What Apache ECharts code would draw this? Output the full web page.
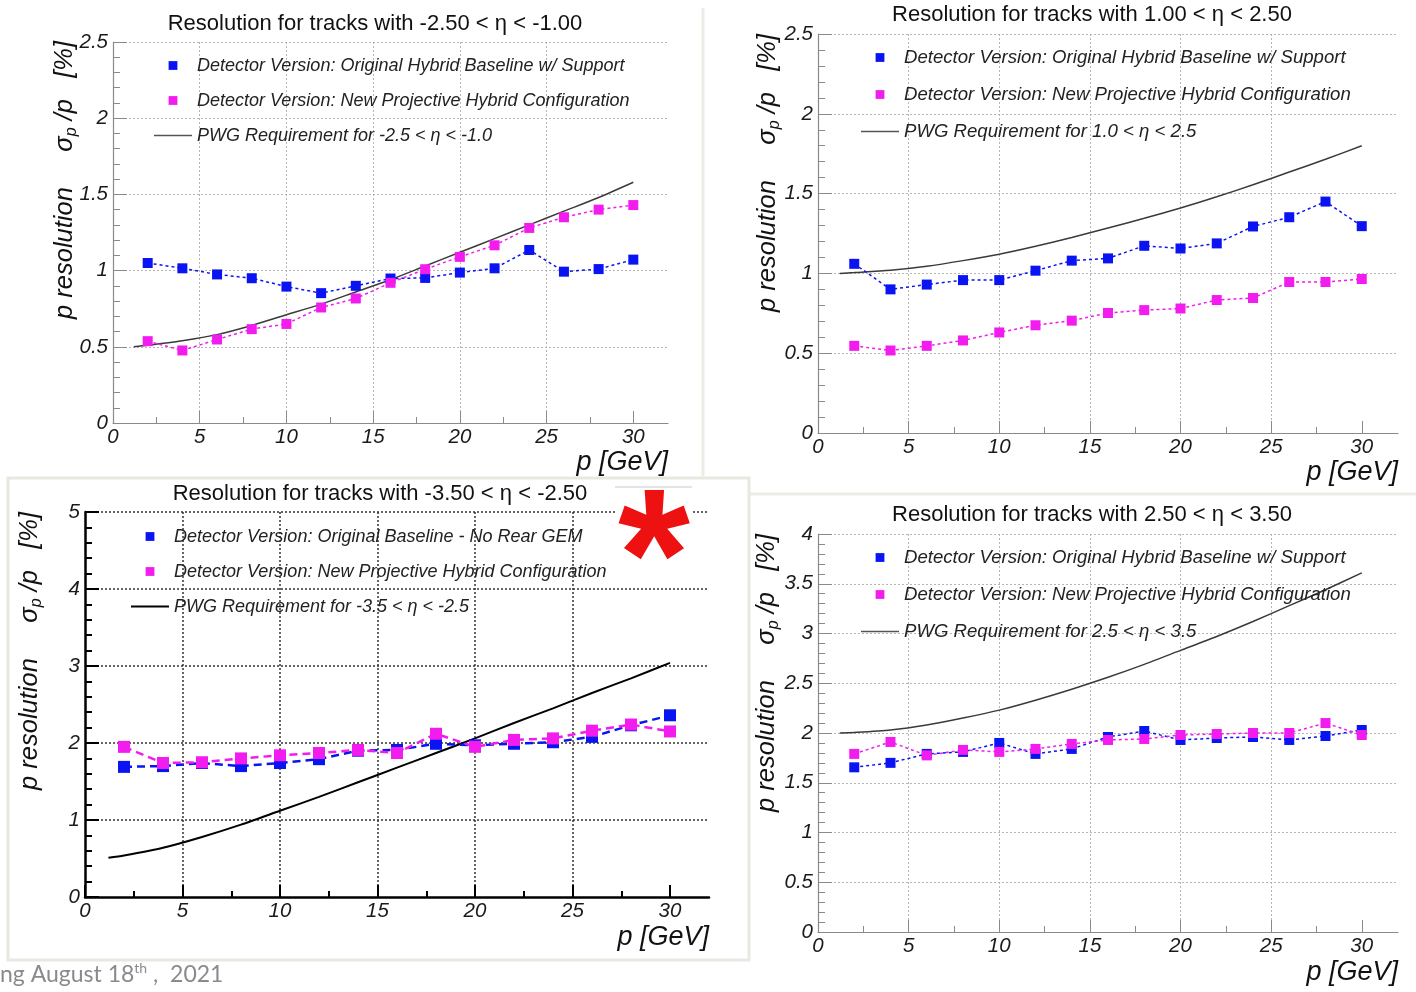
<!DOCTYPE html>
<html><head><meta charset="utf-8">
<script src="https://cdn.jsdelivr.net/npm/echarts@6/dist/echarts.min.js"></script>
<style>html,body{margin:0;padding:0;background:#fff}#c{width:1416px;height:992px}</style>
</head><body><div id="c"></div>
<script>
// ---------- DATA ----------
const momentum = [2,4,6,8,10,12,14,16,18,20,22,24,26,28,30];
const reqMomentum = [1.2,2,4,6,8,10,12,14,16,18,20,22,24,26,28,30];
const xTickValues = [0,5,10,15,20,25,30];
const xMinorValues = [2.5,7.5,12.5,17.5,22.5,27.5];

const titles = [
  'Resolution for tracks with -2.50 < η < -1.00',
  'Resolution for tracks with 1.00 < η < 2.50',
  'Resolution for tracks with -3.50 < η < -2.50',
  'Resolution for tracks with 2.50 < η < 3.50'
];
const blueNames = [
  'Detector Version: Original Hybrid Baseline w/ Support',
  'Detector Version: Original Hybrid Baseline w/ Support',
  'Detector Version: Original Baseline - No Rear GEM',
  'Detector Version: Original Hybrid Baseline w/ Support'
];
const magentaName = 'Detector Version: New Projective Hybrid Configuration';
const reqNames = [
  'PWG Requirement for -2.5 < η < -1.0',
  'PWG Requirement for 1.0 < η < 2.5',
  'PWG Requirement for -3.5 < η < -2.5',
  'PWG Requirement for 2.5 < η < 3.5'
];

// panel 1: -2.5 < eta < -1.0
const p1Blue = [1.05,1.015,0.975,0.95,0.895,0.852,0.90,0.948,0.952,0.987,1.015,1.135,0.993,1.01,1.072];
const p1Magenta = [0.537,0.476,0.548,0.616,0.65,0.758,0.817,0.92,1.009,1.09,1.166,1.28,1.35,1.40,1.43];
const p1Req = [0.50,0.51,0.54,0.58,0.64,0.71,0.78,0.86,0.94,1.03,1.12,1.21,1.30,1.39,1.48,1.58];
// panel 2: 1.0 < eta < 2.5
const p2Blue = [1.06,0.90,0.93,0.958,0.958,1.017,1.08,1.094,1.173,1.156,1.188,1.294,1.352,1.45,1.296];
const p2Magenta = [0.546,0.517,0.546,0.58,0.63,0.675,0.704,0.752,0.77,0.78,0.833,0.846,0.946,0.946,0.965];
const p2Req = [1.00,1.005,1.02,1.045,1.08,1.12,1.17,1.225,1.285,1.345,1.41,1.48,1.555,1.635,1.715,1.80];
// panel 3: -3.5 < eta < -2.5
const p3Blue = [1.69,1.70,1.74,1.70,1.74,1.79,1.90,1.91,1.99,1.97,1.99,2.01,2.08,2.23,2.36];
const p3Magenta = [1.95,1.74,1.75,1.80,1.84,1.87,1.91,1.87,2.12,1.95,2.04,2.06,2.16,2.24,2.15];
const p3Req = [0.51,0.54,0.64,0.78,0.94,1.12,1.30,1.49,1.68,1.87,2.06,2.26,2.45,2.65,2.84,3.04];
// panel 4: 2.5 < eta < 3.5
const p4Blue = [1.655,1.70,1.79,1.81,1.90,1.79,1.84,1.96,2.02,1.93,1.95,1.96,1.93,1.97,2.03];
const p4Magenta = [1.79,1.91,1.775,1.83,1.81,1.84,1.89,1.93,1.94,1.98,1.99,2.00,2.00,2.10,1.98];
const p4Req = [2.00,2.005,2.03,2.08,2.15,2.23,2.33,2.44,2.56,2.69,2.83,2.97,3.12,3.28,3.44,3.61];

const yMax = [2.5, 2.5, 5, 4];
const yInterval = [0.5, 0.5, 1, 0.5];
const blueSets = [p1Blue, p2Blue, p3Blue, p4Blue];
const magentaSets = [p1Magenta, p2Magenta, p3Magenta, p4Magenta];
const reqSets = [p1Req, p2Req, p3Req, p4Req];

// ---------- LAYOUT / STYLE ----------
const panels = [
  {left:113, top:42, width:555, height:381, titleX:375, titleY:24, yNameX:65, yNameY:41, xNameY:462, legLeft:153, legTop:56, legSpacing:35, legFont:18},
  {left:818, top:34, width:580, height:399, titleX:1092, titleY:15, yNameX:768, yNameY:34, xNameY:472, legLeft:860, legTop:48, legSpacing:37, legFont:18.6},
  {left:85, top:512, width:624, height:385, titleX:380, titleY:494, yNameX:30, yNameY:512, xNameY:937, legLeft:130, legTop:527, legSpacing:35, legFont:18},
  {left:818, top:534, width:580, height:398, titleX:1092, titleY:515, yNameX:767, yNameY:534, xNameY:972, legLeft:860, legTop:548, legSpacing:37, legFont:18.6}
];
const BLUE = '#0a14f2', MAGENTA = '#f21cef';
const FONT = 'Liberation Sans, Arial, sans-serif';

const zip = (xs, ys) => xs.map((x, i) => [x, ys[i]]);

const grid = [], xAxis = [], yAxis = [], series = [], legend = [], graphic = [];

panels.forEach((pn, i) => {
  const heavy = (i === 2);
  const axisCol = heavy ? '#000' : '#8a8a8a';
  const gridCol = heavy ? '#333' : '#b5b5b5';
  const reqCol = heavy ? '#000' : '#3a3a3a';
  grid.push({left: pn.left, top: pn.top, width: pn.width, height: pn.height, containLabel: false});
  const labelStyle = {fontStyle:'italic', fontFamily: FONT, fontSize: 20.5, color: '#1a1a1a'};
  xAxis.push({
    type:'value', gridIndex:i, min:0, max:32, interval:5,
    axisLine:{show:true, onZero:false, lineStyle:{color:axisCol, width: heavy ? 2.5 : 1.2}},
    axisTick:{show:true, inside:true, length:12, customValues: xTickValues, lineStyle:{color:axisCol, width: heavy ? 2 : 1}},
    axisLabel:{...labelStyle, margin:4, customValues: xTickValues},
    splitLine:{show:true, showMaxLine:false, showMinLine:false, lineStyle:{color:gridCol, type:[2,2], width: heavy ? 1.5 : 1}}
  });
  // minor x ticks overlay
  xAxis.push({
    type:'value', gridIndex:i, min:0, max:32, position:'bottom',
    axisLine:{show:false},
    axisTick:{show:true, inside:true, length:6, customValues: xMinorValues, lineStyle:{color:axisCol, width: heavy ? 2 : 1}},
    axisLabel:{show:false}, splitLine:{show:false}
  });
  yAxis.push({
    type:'value', gridIndex:i, min:0, max:yMax[i], interval:yInterval[i],
    axisLine:{show:true, onZero:false, lineStyle:{color:axisCol, width: heavy ? 2.5 : 1.2}},
    axisTick:{show:true, inside:true, length:14, lineStyle:{color:axisCol, width: heavy ? 2 : 1}},
    minorTick:{show:true, splitNumber:5, length:7, lineStyle:{color:axisCol, width: heavy ? 2 : 1}},
    axisLabel:{...labelStyle, margin:5},
    splitLine:{show:true, showMinLine:false, lineStyle:{color:gridCol, type:[2,2], width: heavy ? 1.5 : 1}}
  });
  const xi = i * 2;
  series.push({
    type:'line', name: reqNames[i], xAxisIndex: xi, yAxisIndex: i,
    data: zip(reqMomentum, reqSets[i]), symbol:'none', smooth:0.25,
    itemStyle:{color: reqCol},
    lineStyle:{color: reqCol, width: heavy ? 2 : 1.5}, z:2
  });
  series.push({
    type:'line', name: blueNames[i], xAxisIndex: xi, yAxisIndex: i,
    data: zip(momentum, blueSets[i]), symbol:'rect', symbolSize: heavy ? 12 : 10,
    itemStyle:{color: BLUE}, lineStyle:{color: BLUE, width: heavy ? 2.5 : 1.5, type: heavy ? [8,5] : [3,3]}, z:3
  });
  series.push({
    type:'line', name: magentaName, xAxisIndex: xi, yAxisIndex: i,
    data: zip(momentum, magentaSets[i]), symbol:'rect', symbolSize: heavy ? 12 : 10,
    itemStyle:{color: MAGENTA}, lineStyle:{color: MAGENTA, width: heavy ? 2.5 : 1.5, type: heavy ? [8,5] : [3,3]}, z:4
  });
  legend.push({
    orient:'vertical', left: pn.legLeft, top: pn.legTop, padding:0,
    itemWidth: 38, itemHeight: 11, itemGap: pn.legSpacing - 19, selectedMode:false,
    textStyle:{fontStyle:'italic', fontFamily: FONT, fontSize: pn.legFont, color:'#222', lineHeight:19},
    data:[
      {name: blueNames[i], lineStyle:{opacity:0}},
      {name: magentaName, lineStyle:{opacity:0}},
      {name: reqNames[i], itemStyle:{opacity:0}, lineStyle:{color: heavy ? '#000' : '#555', width: heavy ? 2 : 1.5}}
    ]
  });
  // title
  graphic.push({type:'text', x: pn.titleX, y: pn.titleY, z:10,
    style:{text: titles[i], fill:'#111', font:'22px ' + FONT, align:'center', verticalAlign:'middle'}});
  // x axis name
  graphic.push({type:'text', x: pn.left + pn.width, y: pn.xNameY, z:10,
    style:{text:'p [GeV]', fill:'#111', font:'italic 27px ' + FONT, align:'right', verticalAlign:'middle'}});
  // y axis name (rotated)
  graphic.push({type:'text', x: pn.yNameX, y: pn.yNameY, rotation: Math.PI/2, z:10,
    style:{text:'{a|p resolution     σ}{s|p}{a| /p   [%]}', align:'right', verticalAlign:'middle',
      rich:{a:{font:'italic 25.5px ' + FONT, fill:'#111'}, s:{font:'italic 16px ' + FONT, fill:'#111', padding:[13,0,0,0]}}}});
});

// panel frames, footer, marker star
graphic.push(
  {type:'line', shape:{x1:703, y1:8, x2:703, y2:476}, style:{stroke:'#ececE6', lineWidth:3}, z:1},
  {type:'rect', shape:{x:8, y:478, width:741, height:482}, style:{fill:'none', stroke:'#e9e8e0', lineWidth:3}, z:1},
  {type:'line', shape:{x1:750, y1:494, x2:1416, y2:494}, style:{stroke:'#ececE6', lineWidth:3}, z:1},
  {type:'rect', shape:{x:615, y:487, width:76, height:70}, style:{fill:'#ffffff', stroke:null}, z:20},
  {type:'line', shape:{x1:615, y1:487, x2:692, y2:487}, style:{stroke:'#e4e4e4', lineWidth:2}, z:21},
  {type:'text', x:654, y:659, z:22, style:{text:'*', fill:'#ee1111', font:'bold 185px ' + FONT, align:'center', verticalAlign:'bottom'}},
  {type:'text', x:0, y:975, z:10, style:{text:'{a|ng August 18}{s|th}{a| ,  2021}', verticalAlign:'middle',
    rich:{a:{font:'23px Lato, "Open Sans", sans-serif', fill:'#8a8a8a'}, s:{font:'14px Lato, "Open Sans", sans-serif', fill:'#8a8a8a', padding:[0,0,13,0]}}}}
);

const chart = echarts.init(document.getElementById('c'), null, {renderer:'canvas'});
chart.setOption({
  backgroundColor:'#ffffff',
  animation:false,
  grid, xAxis, yAxis, series, legend, graphic
});
</script>
</body></html>
